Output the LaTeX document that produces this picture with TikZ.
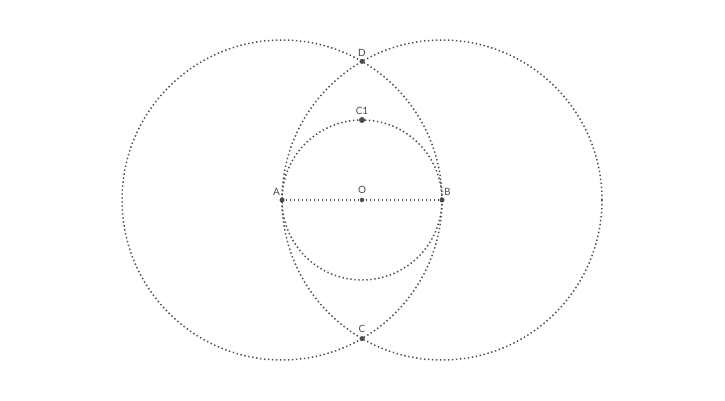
\documentclass[tikz,border=0pt]{standalone}
\usepackage{fontspec}
\setmainfont{Lato}
\begin{document}
\begin{tikzpicture}[x=1pt,y=-1pt,
  dots/.style={draw=black!70, line width=1.5pt, dash pattern=on 1.4pt off 2.6pt},
  pt/.style={circle, fill=black!70, inner sep=0pt, minimum size=5pt},
  lbl/.style={text=black!70, font=\fontsize{10}{12}\selectfont, inner sep=1pt}]
\useasboundingbox (0,0) rectangle (725,400);
\coordinate (cA) at (282,200);
\coordinate (cB) at (442,200);
\coordinate (cO) at (362,200);
\draw[dots] (cA) circle[radius=160];
\draw[dots] (cB) circle[radius=160];
\draw[dots] (cO) circle[radius=80];
\draw[dots] (cA) -- (cB);
\node[pt] (A) at (cA) {};
\node[pt] (B) at (cB) {};
\node[pt, minimum size=4.5pt] (O) at (cO) {};
\node[pt] (D) at (362,61.4) {};
\node[pt] (C) at (362,338.6) {};
\node[pt, minimum size=6pt] (C1) at (362,120) {};
\node[lbl, anchor=south east] at (281,197) {A};
\node[lbl, anchor=south west] at (443,197) {B};
\node[lbl, anchor=south] at (362,195) {O};
\node[lbl, anchor=south] at (362,58) {D};
\node[lbl, anchor=south] at (362,334) {C};
\node[lbl, anchor=south] at (362,116) {C1};
\end{tikzpicture}
\end{document}
